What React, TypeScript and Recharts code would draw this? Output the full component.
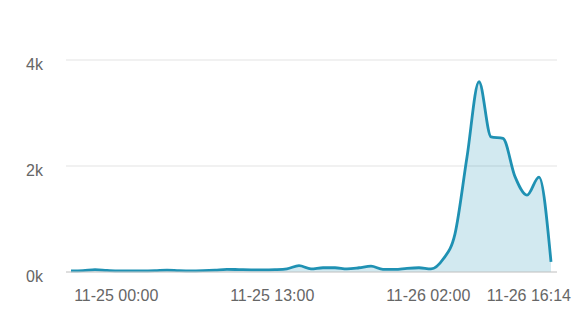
import { AreaChart, Area, XAxis, YAxis, CartesianGrid } from 'recharts';

// hourly samples, index 0 = first point of the series
const hours = Array.from({ length: 41 }, (_, i) => i);
const requests = [
  20, 25, 45, 30, 20, 20, 20, 25, 35, 25,
  20, 25, 35, 50, 45, 40, 40, 45, 60, 120,
  60, 80, 80, 60, 80, 110, 50, 50, 70, 80,
  60, 240, 720, 2170, 3590, 2550, 2520, 1800, 1450, 1790,
  190,
];

const xTicks = [3.77, 16.77, 29.77, 40];
const xTickLabels = ['11-25 00:00', '11-25 13:00', '11-26 02:00', '11-26 16:14'];
const yTicks = [0, 2000, 4000];

const data = hours.map((h, i) => ({ h, value: requests[i] }));

const LINE = '#1f91b3';
const FONT = '"Liberation Sans", Arial, sans-serif';

function XTick({ x, y, payload, index }: any) {
  const last = index === xTicks.length - 1;
  return (
    <text
      x={last ? x + 20 : x}
      y={y}
      dy="0.71em"
      textAnchor={last ? 'end' : 'middle'}
      fill="#666"
      fontSize={16}
      fontFamily={FONT}
    >
      {xTickLabels[xTicks.indexOf(payload.value)]}
    </text>
  );
}

function YTick({ x, y, payload }: any) {
  return (
    <text x={x} y={y + 4} dy="0.355em" textAnchor="end" fill="#666" fontSize={16} fontFamily={FONT}>
      {payload.value / 1000}k
    </text>
  );
}

export default function App() {
  return (
    <div style={{ width: 580, height: 311 }}>
      <AreaChart width={580} height={311} data={data} margin={{ top: 52, right: 31, left: 0, bottom: 0 }}>
        <CartesianGrid vertical={false} stroke="#e3e3e3" />
        <XAxis
          dataKey="h"
          type="number"
          domain={[0, 40]}
          ticks={xTicks}
          interval={0}
          padding={{ left: 5, right: 6 }}
          height={47}
          tickLine={false}
          tickSize={0}
          tickMargin={18}
          axisLine={{ stroke: '#cccccc' }}
          tick={<XTick />}
        />
        <YAxis
          domain={[0, 4000]}
          ticks={yTicks}
          width={58}
          axisLine={false}
          tickLine={false}
          tickSize={0}
          tickMargin={23}
          tick={<YTick />}
        />
        <Area
          type="monotone"
          dataKey="value"
          stroke={LINE}
          strokeWidth={2.8}
          fill={LINE}
          fillOpacity={0.2}
          dot={false}
          activeDot={false}
          isAnimationActive={false}
        />
      </AreaChart>
    </div>
  );
}
